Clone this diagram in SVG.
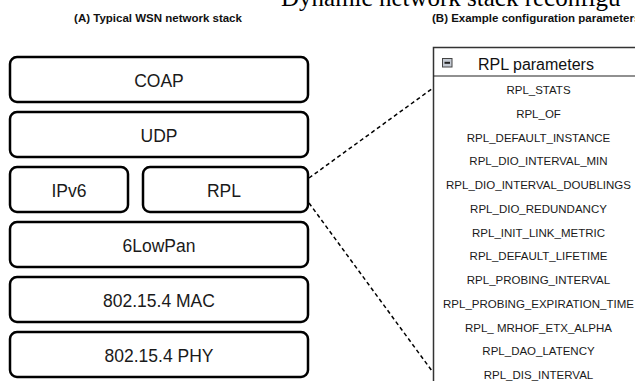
<svg xmlns="http://www.w3.org/2000/svg" width="635" height="381" viewBox="0 0 635 381">
<style>
.layer{fill:#fff;stroke:#000;stroke-width:2.5}
.lt{font-family:"Liberation Sans",Arial,sans-serif;font-size:17.5px;fill:#1a1a1a;text-anchor:middle}
.sub{font-family:"Liberation Sans",Arial,sans-serif;font-size:11.5px;font-weight:bold;fill:#111}
.item{font-family:"Liberation Sans",Arial,sans-serif;font-size:11.5px;fill:#1a1a1a;text-anchor:middle}
.conn{fill:none;stroke:#000;stroke-width:1.5;stroke-dasharray:4 3}
</style>
<rect width="635" height="381" fill="#fff"/>
<text x="281" y="6" font-family="'Liberation Serif','Times New Roman',serif" font-size="25" fill="#000">Dynamic network stack reconfigu</text>
<text class="sub" x="158" y="22" text-anchor="middle">(A) Typical WSN network stack</text>
<text class="sub" x="432" y="22">(B) Example configuration parameters</text>

<g id="coap"><rect class="layer" x="10" y="57" width="298" height="45" rx="7"/><text class="lt" x="159" y="86.5">COAP</text></g>
<g id="udp"><rect class="layer" x="10" y="112" width="298" height="45" rx="7"/><text class="lt" x="159" y="141.5">UDP</text></g>
<g id="ipv6"><rect class="layer" x="10" y="167" width="118" height="45" rx="7"/><text class="lt" x="69" y="196.5">IPv6</text></g>
<g id="rpl"><rect class="layer" x="143" y="167" width="165" height="45" rx="7"/><text class="lt" x="224" y="196.5">RPL</text></g>
<g id="sixlowpan"><rect class="layer" x="10" y="222" width="298" height="45" rx="7"/><text class="lt" x="159" y="251.5">6LowPan</text></g>
<g id="mac"><rect class="layer" x="10" y="277" width="298" height="45" rx="7"/><text class="lt" x="159" y="306.5">802.15.4 MAC</text></g>
<g id="phy"><rect class="layer" x="10" y="332" width="298" height="45" rx="7"/><text class="lt" x="159" y="361.5">802.15.4 PHY</text></g>

<g id="rpl-parameters">
<rect x="433.5" y="47.5" width="210" height="345" fill="#fff" stroke="#333" stroke-width="1.5"/>
<line x1="433.5" y1="76" x2="640" y2="76" stroke="#222" stroke-width="1.2"/>
<rect x="442.5" y="58.5" width="9.5" height="8.5" fill="#c4cad3" stroke="#444" stroke-width="1"/>
<rect x="444.5" y="61.8" width="5.5" height="2" fill="#222"/>
<text x="478" y="69.5" font-family="'Liberation Sans',Arial,sans-serif" font-size="16" fill="#111">RPL parameters</text>
<text class="item" x="538.5" y="94">RPL_STATS</text>
<text class="item" x="538.5" y="117.75">RPL_OF</text>
<text class="item" x="538.5" y="141.5">RPL_DEFAULT_INSTANCE</text>
<text class="item" x="538.5" y="165.25">RPL_DIO_INTERVAL_MIN</text>
<text class="item" x="538.5" y="189">RPL_DIO_INTERVAL_DOUBLINGS</text>
<text class="item" x="538.5" y="212.75">RPL_DIO_REDUNDANCY</text>
<text class="item" x="538.5" y="236.5">RPL_INIT_LINK_METRIC</text>
<text class="item" x="538.5" y="260.25">RPL_DEFAULT_LIFETIME</text>
<text class="item" x="538.5" y="284">RPL_PROBING_INTERVAL</text>
<text class="item" x="538.5" y="307.75">RPL_PROBING_EXPIRATION_TIME</text>
<text class="item" x="538.5" y="331.5">RPL_ MRHOF_ETX_ALPHA</text>
<text class="item" x="538.5" y="355.25">RPL_DAO_LATENCY</text>
<text class="item" x="538.5" y="379">RPL_DIS_INTERVAL</text>
</g>

<g id="connectors">
<line class="conn" x1="309" y1="178" x2="433" y2="88"/>
<line class="conn" x1="309" y1="203" x2="432" y2="371"/>
</g>
</svg>
